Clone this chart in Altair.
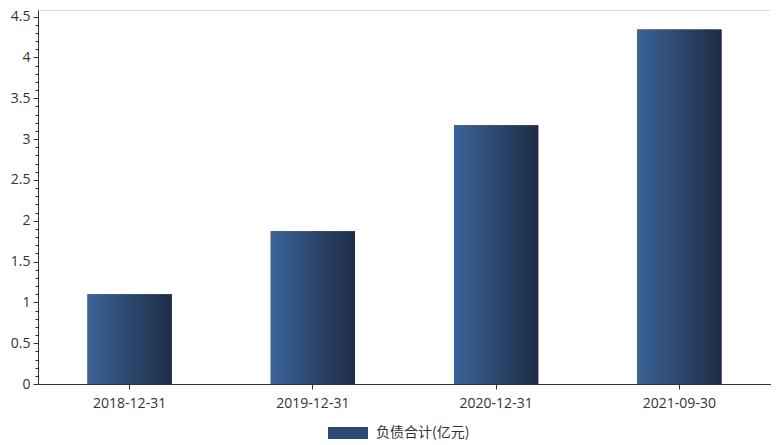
import altair as alt
import pandas as pd

categories = ["2018-12-31", "2019-12-31", "2020-12-31", "2021-09-30"]
values = [1.10, 1.87, 3.17, 4.34]
series_name = "负债合计(亿元)"
major_ticks = [round(i * 0.5, 1) for i in range(10)]
minor_ticks = [round(i * 0.1, 1) for i in range(46)]

df = pd.DataFrame({"date": categories, "value": values, "series": [series_name] * len(categories)})

FONT = "Open Sans"
TXT = "#333333"
gradient = {
    "gradient": "linear",
    "x1": 0, "y1": 0, "x2": 1, "y2": 0,
    "stops": [
        {"offset": 0, "color": "#3b6398"},
        {"offset": 1, "color": "#1e2c45"},
    ],
}

yscale = alt.Scale(domain=[0, 4.58], nice=False)

x = alt.X(
    "date:N",
    sort=categories,
    title=None,
    scale=alt.Scale(paddingInner=0.54, paddingOuter=0.27),
    axis=alt.Axis(
        labelAngle=0, labelColor=TXT, labelFont=FONT, labelFontSize=14,
        domainColor=TXT, tickColor=TXT, tickSize=5, labelPadding=7,
        grid=False,
    ),
)
y_major = alt.Y(
    "value:Q",
    title=None,
    scale=yscale,
    axis=alt.Axis(
        orient="left", values=major_ticks, format="~g", tickSize=5,
        labelColor=TXT, labelFont=FONT, labelFontSize=14,
        domainColor=TXT, tickColor=TXT, grid=False,
        minExtent=30, maxExtent=30, labelPadding=3,
    ),
)
y_minor = alt.Y(
    "value:Q",
    title=None,
    scale=yscale,
    axis=alt.Axis(
        orient="left", values=minor_ticks, labels=False, domain=False,
        tickSize=3, tickColor=TXT, grid=False, minExtent=30, maxExtent=30,
    ),
)

legend_bars = alt.Chart(df).mark_bar().encode(
    x=x,
    y=y_major,
    color=alt.Color(
        "series:N",
        scale=alt.Scale(range=["#2c4a72"]),
        legend=alt.Legend(
            title=None, orient="none", legendX=290, legendY=403,
            direction="horizontal",
            symbolType="M-1,-0.3L1,-0.3L1,0.3L-1,0.3Z", symbolSize=1600,
            symbolStrokeWidth=0, labelFont="Noto Sans CJK SC", labelFontSize=14,
            labelColor=TXT, labelOffset=8, padding=0,
        ),
    ),
)

grad_bars = alt.Chart(df).mark_bar(color=gradient).encode(x=x, y=y_minor)

chart = (
    alt.layer(legend_bars, grad_bars)
    .resolve_axis(y="independent")
    .properties(width=733, height=374, padding={"left": 0, "top": 1, "right": 0, "bottom": 0})
    .configure_view(stroke="transparent", strokeWidth=0)
    .configure(background="white")
)

chart.save("out.html", embed_options={"renderer": "svg", "actions": False})
